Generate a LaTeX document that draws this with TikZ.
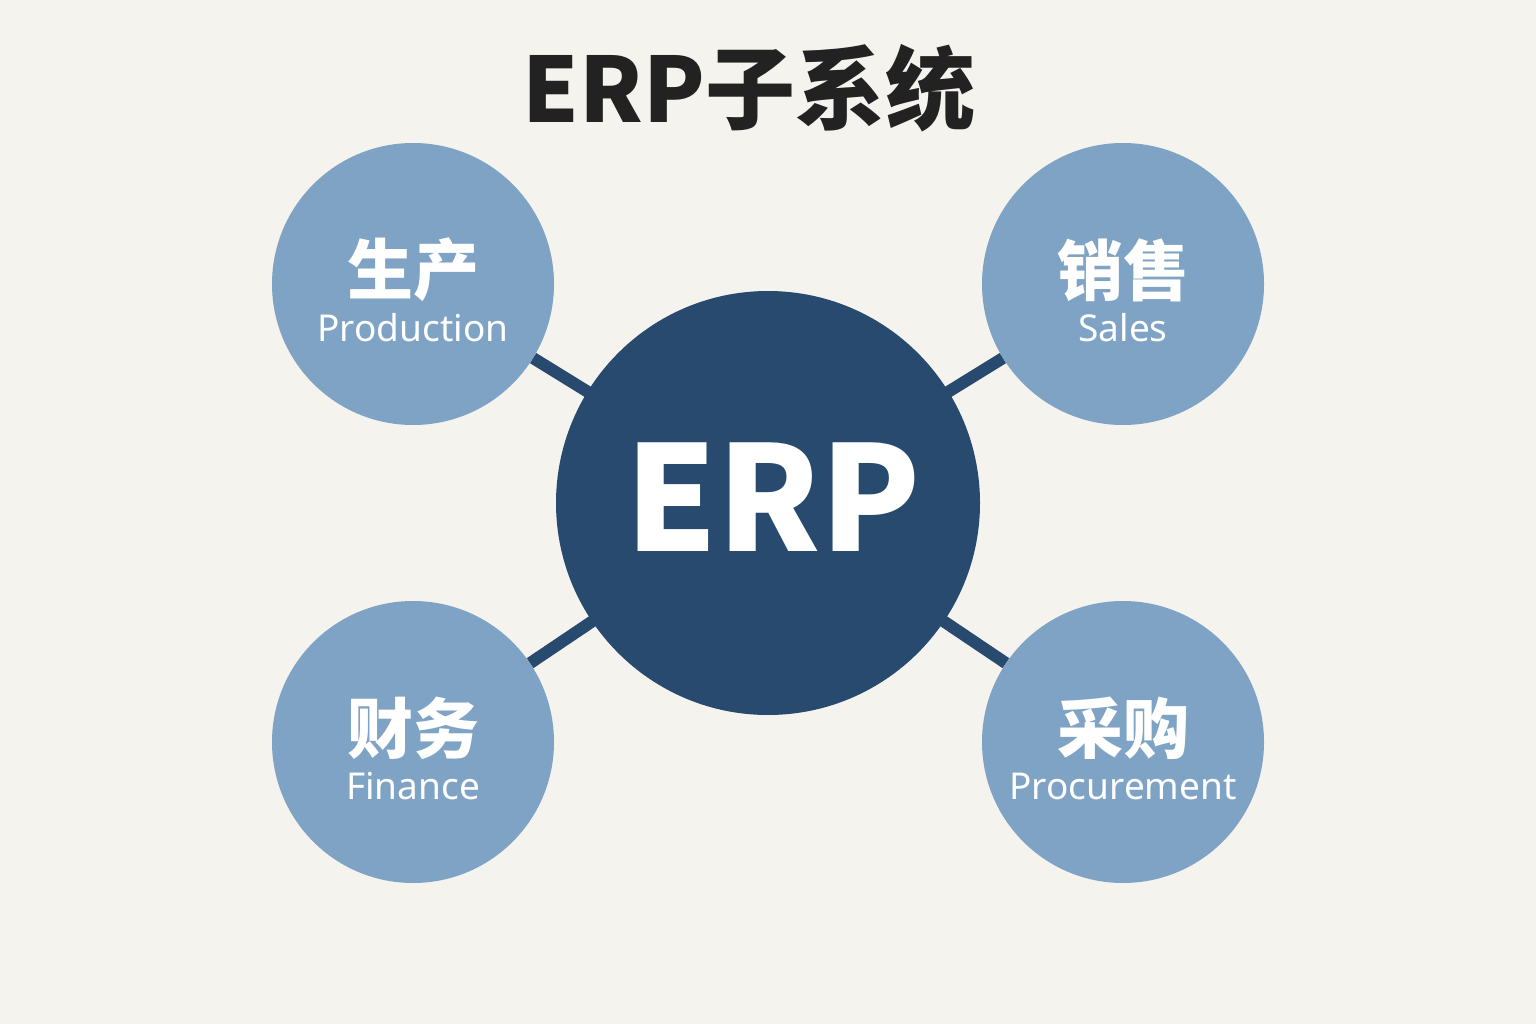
\documentclass[tikz,border=0pt]{standalone}
\usepackage{fontspec}
\setmainfont{Noto Sans}
\newfontfamily\cjk{Noto Sans CJK SC}
\definecolor{bgc}{HTML}{F5F3EE}
\definecolor{hub}{HTML}{284A6E}
\definecolor{sat}{HTML}{7EA3C4}
\definecolor{ttl}{HTML}{222222}
\begin{document}
\begin{tikzpicture}[x=1pt,y=-1pt,
  hubnode/.style={circle,fill=hub,minimum size=424pt,inner sep=0pt,text=white},
  satnode/.style={circle,fill=sat,minimum size=282pt,inner sep=0pt,text=white,align=center},
  link/.style={draw=hub,line width=12pt},
  zh/.style={font=\cjk\bfseries\fontsize{66}{70}\selectfont},
]
\fill[bgc] (0,0) rectangle (1536,1024);
\useasboundingbox (0,0) rectangle (1536,1024);
\node[font=\cjk\bfseries\fontsize{90}{96}\selectfont,text=ttl] (title) at (749,88) {ERP子系统};
\node[satnode] (prod) at (413,284) {};
\node[satnode] (sales) at (1123,284) {};
\node[satnode] (fin) at (413,742) {};
\node[satnode] (proc) at (1123,742) {};
\draw[link] (prod) -- (768,503);
\draw[link] (sales) -- (768,503);
\draw[link] (fin) -- (768,503);
\draw[link] (proc) -- (768,503);
\node[hubnode] (erp) at (768,503) {};
\node[text=white,font=\cjk\bfseries\fontsize{146}{150}\selectfont] (erptext) at (773,497) {ERP};
\foreach \n/\z/\e in {prod/生产/Production, sales/销售/Sales, fin/财务/Finance, proc/采购/Procurement}{
  \node[zh,text=white] (\n z) at ([yshift=14pt]\n.center) {\z};
  \node[text=white,font=\fontsize{37}{40}\selectfont] (\n e) at ([yshift=-44pt]\n.center) {\e};
}
\end{tikzpicture}
\end{document}
